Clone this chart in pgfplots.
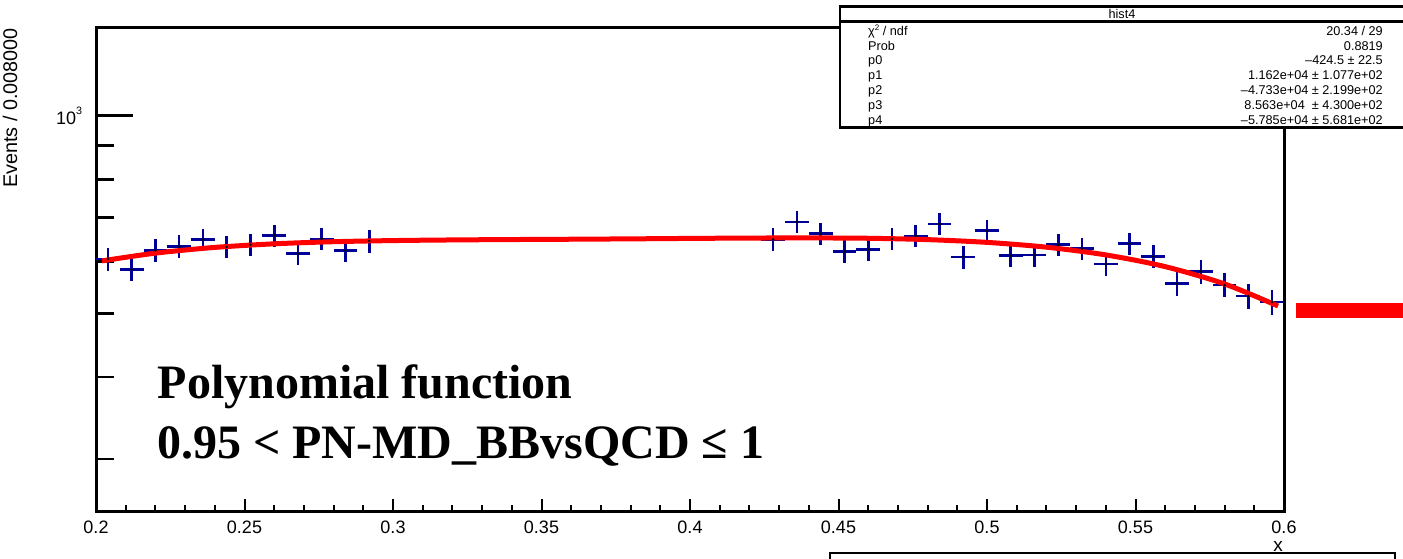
\documentclass[border=0pt]{standalone}
\usepackage{fontspec}
\setmainfont{Liberation Sans}
\newfontfamily\timesfont{Liberation Serif}
\usepackage{pgfplots}
\pgfplotsset{compat=1.18}
\usepackage{pgfplotstable}

\definecolor{rootnavy}{RGB}{0,0,153}
\definecolor{rootred}{RGB}{255,0,0}

% Histogram: bin centre, events per bin, statistical error
\pgfplotstableread{
x      y    ey
0.204  605  24.6
0.212  583  24.1
0.220  623  25.0
0.228  632  25.1
0.236  647  25.4
0.244  631  25.1
0.252  636  25.2
0.260  657  25.6
0.268  616  24.8
0.276  649  25.5
0.284  623  25.0
0.292  644  25.4
0.428  648  25.5
0.436  689  26.2
0.444  661  25.7
0.452  621  24.9
0.460  625  25.0
0.468  649  25.5
0.476  656  25.6
0.484  684  26.2
0.492  609  24.7
0.500  668  25.8
0.508  612  24.7
0.516  613  24.8
0.524  636  25.2
0.532  627  25.0
0.540  594  24.4
0.548  638  25.3
0.556  610  24.7
0.564  555  23.6
0.572  579  24.1
0.580  552  23.5
0.588  531  23.0
0.596  520  22.8
}\histdata

% Fitted 4th-order polynomial, sampled
\pgfplotstableread{
x      f
0.202  600.8
0.220  617.4
0.240  629.9
0.260  637.9
0.280  642.6
0.300  645.2
0.320  646.6
0.340  647.5
0.360  648.2
0.380  649.1
0.400  650.1
0.420  650.9
0.440  651.2
0.460  650.4
0.480  647.3
0.500  641.1
0.520  630.4
0.540  613.5
0.560  588.8
0.580  554.1
0.598  512.8
}\fitcurve

\begin{document}
\begin{tikzpicture}
\useasboundingbox (0,0) rectangle (1403pt,559pt);
\clip (0,0) rectangle (1403pt,559pt);

% x axis ticks and labels
\begin{axis}[
  at={(96pt,47pt)}, anchor=south west,
  width=1188pt, height=484pt, scale only axis,
  xmin=0.2, xmax=0.6, ymin=0, ymax=1,
  axis line style={draw=none},
  ytick=\empty,
  xtick={0.2,0.25,0.3,0.35,0.4,0.45,0.5,0.55,0.6},
  xticklabels={0.2,0.25,0.3,0.35,0.4,0.45,0.5,0.55,0.6},
  minor x tick num=4,
  xtick pos=lower, tick align=inside,
  major tick length=12.5pt, minor tick length=6.5pt,
  tick style={line width=2pt, black},
  xticklabel style={font=\fontsize{18}{18}\selectfont, anchor=north, inner sep=0pt, yshift=-8.5pt},
]
\end{axis}

% frame, y axis, data and fit
\begin{axis}[
  at={(96pt,47pt)}, anchor=south west,
  width=1188pt, height=484pt, scale only axis,
  xmin=0.2, xmax=0.6,
  ymode=log, ymin=249, ymax=1360,
  xtick=\empty,
  ytick={1000},
  yticklabels={10\raisebox{10pt}{\fontsize{10.7}{10.7}\selectfont 3}},
  minor ytick={300,400,500,600,700,800,900},
  ytick pos=left, tick align=inside,
  major tick length=37pt, minor tick length=18pt,
  tick style={line width=2.6pt, black},
  axis line style={line width=3pt},
  yticklabel style={font=\fontsize{18}{18}\selectfont, anchor=base east, inner sep=0pt, xshift=-13.7pt, yshift=-9.3pt},
]
\addplot[only marks, mark=*, mark size=1.1pt, black,
  error bars/.cd, x dir=both, x fixed=0.004, y dir=both, y explicit,
  error mark=none, error bar style={line width=2.6pt, rootnavy}]
  table[x=x, y=y, y error=ey]{\histdata};
\addplot[rootred, line width=5pt, smooth, no marks] table[x=x, y=f]{\fitcurve};
\end{axis}

% axis titles
\node[rotate=90, anchor=base east, inner sep=0pt, font=\fontsize{19.8}{19.8}\selectfont] at (17pt,531pt) {Events / 0.008000};
\node[anchor=base east, inner sep=0pt, font=\fontsize{19}{19}\selectfont] at (1283pt,7pt) {x};

% fit statistics box
\draw[line width=2.7pt, fill=white] (840pt,431.3pt) rectangle (1405pt,552.3pt);
\draw[line width=2.7pt] (840pt,537.3pt) -- (1405pt,537.3pt);
\begin{scope}[every node/.style={inner sep=0pt, font=\fontsize{12.7}{12.7}\selectfont}]
\node at (1122pt,544.7pt) {hist4};
\node[anchor=base west] at (868pt,523.8pt) {χ\raisebox{4.5pt}{\fontsize{8}{8}\selectfont 2} / ndf};
\node[anchor=base west] at (868pt,508.9pt) {Prob};
\node[anchor=base west] at (868pt,494.0pt) {p0};
\node[anchor=base west] at (868pt,479.1pt) {p1};
\node[anchor=base west] at (868pt,464.2pt) {p2};
\node[anchor=base west] at (868pt,449.3pt) {p3};
\node[anchor=base west] at (868pt,434.4pt) {p4};
\node[anchor=base east] at (1383pt,523.8pt) {20.34 / 29};
\node[anchor=base east] at (1383pt,508.9pt) {0.8819};
\node[anchor=base east] at (1383pt,494.0pt) {–424.5 ± 22.5};
\node[anchor=base east] at (1383pt,479.1pt) {1.162e+04 ± 1.077e+02};
\node[anchor=base east] at (1383pt,464.2pt) {–4.733e+04 ± 2.199e+02};
\node[anchor=base east] at (1383pt,449.3pt) {8.563e+04 \ ± 4.300e+02};
\node[anchor=base east] at (1383pt,434.4pt) {–5.785e+04 ± 5.681e+02};
\end{scope}

% legend and neighbouring box edges
\fill[rootred] (1296pt,240.7pt) rectangle (1403pt,256.3pt);
\draw[line width=2.5pt] (830pt,-30pt) rectangle (1395pt,6pt);

% selection label
\node[anchor=base west, inner sep=0pt, font=\timesfont\bfseries\fontsize{48}{48}\selectfont] at (157.5pt,160.7pt) {Polynomial function};
\node[anchor=base west, inner sep=0pt, font=\timesfont\bfseries\fontsize{48}{48}\selectfont] at (157pt,100.7pt) {0.95 < PN-MD\_BBvsQCD ≤ 1};
\end{tikzpicture}
\end{document}
